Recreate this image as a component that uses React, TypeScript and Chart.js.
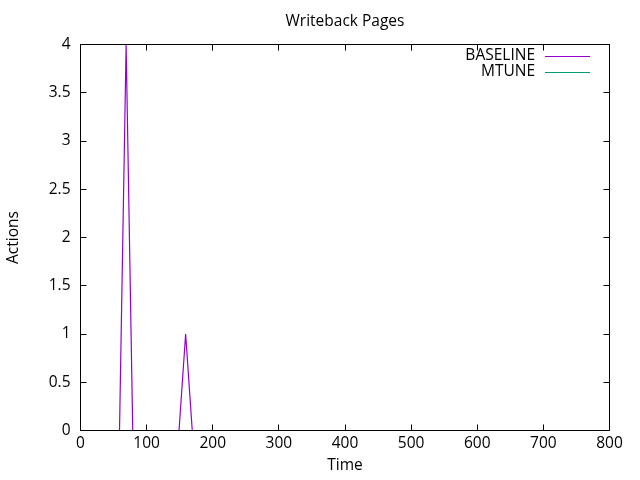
import React, { useEffect, useRef } from "react";
import { Chart, registerables } from "chart.js";

Chart.register(...registerables);

const titleText = "Writeback Pages";
const xLabel = "Time";
const yLabel = "Actions";
const seriesNames = ["BASELINE", "MTUNE"];
const seriesColors = ["#9400d3", "#009e73"];

const times = [
  9, 19, 29, 39, 49, 59, 69, 79, 89, 99, 109, 119, 129, 139, 149, 159, 169, 179, 189, 199,
  209, 219, 229, 239, 249, 259, 269, 279, 289, 299, 309, 319, 329, 339, 349, 359, 369, 379, 389, 399,
  409, 419, 429, 439, 449, 459, 469, 479, 489, 499, 509, 519, 529, 539, 549, 559, 569, 579, 589, 599,
  609, 619, 629, 639, 649, 659, 669, 679, 689, 699, 709, 719, 729, 739, 749, 759, 769, 779, 789, 799,
];
const baseline = [
  0, 0, 0, 0, 0, 0, 4, 0, 0, 0, 0, 0, 0, 0, 0, 1, 0, 0, 0, 0,
  0, 0, 0, 0, 0, 0, 0, 0, 0, 0, 0, 0, 0, 0, 0, 0, 0, 0, 0, 0,
  0, 0, 0, 0, 0, 0, 0, 0, 0, 0, 0, 0, 0, 0, 0, 0, 0, 0, 0, 0,
  0, 0, 0, 0, 0, 0, 0, 0, 0, 0, 0, 0, 0, 0, 0, 0, 0, 0, 0, 0,
];
const mtune = [
  0, 0, 0, 0, 0, 0, 0, 0, 0, 0, 0, 0, 0, 0, 0, 0, 0, 0, 0, 0,
  0, 0, 0, 0, 0, 0, 0, 0, 0, 0, 0, 0, 0, 0, 0, 0, 0, 0, 0, 0,
  0, 0, 0, 0, 0, 0, 0, 0, 0, 0, 0, 0, 0, 0, 0, 0, 0, 0, 0, 0,
  0, 0, 0, 0, 0, 0, 0, 0, 0, 0, 0, 0, 0, 0, 0, 0, 0, 0, 0, 0,
];
const xTicks = [0, 100, 200, 300, 400, 500, 600, 700, 800];
const yTicks = [0, 0.5, 1, 1.5, 2, 2.5, 3, 3.5, 4];

const FONT = '"Open Sans", "DejaVu Sans", sans-serif';
const FS = 15.5;

const gnuplotPlugin = {
  id: "gnuplotDecor",
  afterDatasetsDraw(chart: any) {
    const ctx = chart.ctx;
    const a = chart.chartArea;
    const xs = chart.scales.x;
    const ys = chart.scales.y;
    ctx.save();
    ctx.strokeStyle = "#000";
    ctx.lineWidth = 1;
    ctx.beginPath();
    ctx.rect(a.left, a.top, a.right - a.left, a.bottom - a.top);
    ctx.stroke();
    const tl = 6;
    ctx.beginPath();
    for (const v of xTicks) {
      const px = Math.floor(xs.getPixelForValue(v)) + 0.5;
      ctx.moveTo(px, a.bottom);
      ctx.lineTo(px, a.bottom - tl);
      ctx.moveTo(px, a.top);
      ctx.lineTo(px, a.top + tl);
    }
    for (const v of yTicks) {
      const py = Math.floor(ys.getPixelForValue(v)) + 0.5;
      ctx.moveTo(a.left, py);
      ctx.lineTo(a.left + tl, py);
      ctx.moveTo(a.right, py);
      ctx.lineTo(a.right - tl, py);
    }
    ctx.stroke();

    ctx.fillStyle = "#000";
    ctx.font = `${FS}px ${FONT}`;
    ctx.textAlign = "center";
    ctx.textBaseline = "middle";
    for (const v of xTicks) {
      ctx.fillText(String(v), xs.getPixelForValue(v), a.bottom + 13.5);
    }
    ctx.textAlign = "right";
    for (const v of yTicks) {
      ctx.fillText(String(v), a.left - 10, ys.getPixelForValue(v));
    }
    ctx.textAlign = "center";
    ctx.fillText(titleText, (a.left + a.right) / 2, 21.5);
    ctx.fillText(xLabel, (a.left + a.right) / 2, 466);
    ctx.save();
    ctx.translate(14, (a.top + a.bottom) / 2);
    ctx.rotate(-Math.PI / 2);
    ctx.fillText(yLabel, 0, 0);
    ctx.restore();

    const legendY = [55.5, 71.5];
    for (let i = 0; i < seriesNames.length; i++) {
      ctx.textAlign = "right";
      ctx.fillStyle = "#000";
      ctx.fillText(seriesNames[i], 535, legendY[i]);
      ctx.strokeStyle = seriesColors[i];
      ctx.beginPath();
      ctx.moveTo(545, legendY[i] + 1);
      ctx.lineTo(590, legendY[i] + 1);
      ctx.stroke();
    }
    ctx.restore();
  },
};

export default function App() {
  const ref = useRef<HTMLCanvasElement>(null);
  useEffect(() => {
    if (!ref.current) return;
    const chart = new Chart(ref.current, {
      type: "line",
      data: {
        datasets: [
          {
            label: seriesNames[1],
            data: times.map((t, i) => ({ x: t, y: mtune[i] })),
            borderColor: seriesColors[1],
            borderWidth: 1.2,
            pointRadius: 0,
            fill: false,
            order: 2,
          },
          {
            label: seriesNames[0],
            data: times.map((t, i) => ({ x: t, y: baseline[i] })),
            borderColor: seriesColors[0],
            borderWidth: 1.2,
            pointRadius: 0,
            fill: false,
            order: 1,
          },
        ],
      },
      options: {
        animation: false,
        responsive: false,
        maintainAspectRatio: false,
        layout: { padding: { left: 80.5, right: 30.5, top: 44.5, bottom: 49.5 } },
        plugins: { legend: { display: false }, tooltip: { enabled: false }, title: { display: false } },
        scales: {
          x: { type: "linear", min: 0, max: 800, display: false },
          y: { type: "linear", min: 0, max: 4, display: false },
        },
      },
      plugins: [gnuplotPlugin],
    });
    return () => chart.destroy();
  }, []);
  return (
    <div style={{ position: "fixed", left: 0, top: 0, width: 640, height: 480, background: "#fff" }}>
      <canvas ref={ref} width={640} height={480} style={{ width: 640, height: 480 }} />
    </div>
  );
}
